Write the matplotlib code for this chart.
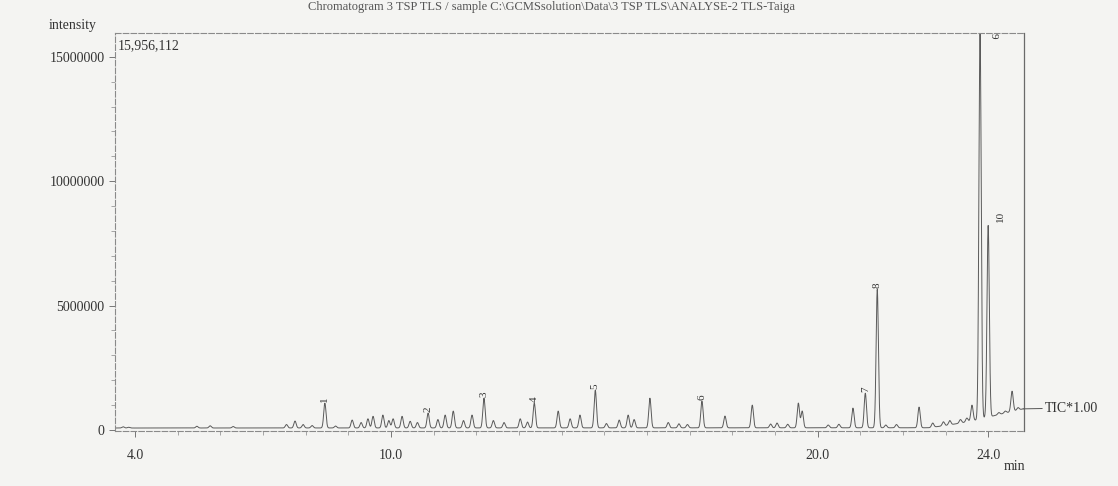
import numpy as np
import matplotlib.pyplot as plt
from matplotlib.ticker import FixedLocator, MultipleLocator, NullFormatter

plt.rcParams['font.family'] = ['Liberation Serif', 'DejaVu Serif']

# labelled peaks: retention time (min) and apex intensity
peak_ids = ['1', '2', '3', '4', '5', '6', '7', '8', '9', '10']
peak_rt = [8.45, 10.87, 12.18, 13.36, 14.79, 17.29, 21.12, 21.40, 23.81, 24.00]
peak_apex = [1080000, 680000, 1280000, 1080000, 1600000, 1160000,
             1480000, 5650000, 15956112, 8220000]

# unlabelled peaks
other_rt = [3.72, 3.85, 5.45, 5.76, 6.30, 7.55, 7.75, 7.94, 8.15, 8.70, 9.09, 9.30,
            9.46, 9.58, 9.81, 9.95, 10.05, 10.26, 10.45, 10.62, 11.10, 11.27,
            11.46, 11.70, 11.90, 12.40, 12.65, 13.03, 13.20, 13.92, 14.20, 14.43,
            15.05, 15.35, 15.56, 15.70, 16.07, 16.50, 16.75, 16.95, 17.83, 18.47,
            18.90, 19.05, 19.30, 19.55, 19.64, 20.25, 20.50, 20.83, 21.60, 21.85,
            22.38, 22.70, 22.95, 23.10, 23.35, 23.50, 23.62, 24.25, 24.40, 24.56, 24.70]
other_apex = [130000, 110000, 150000, 170000, 140000, 220000, 360000, 220000, 180000, 160000, 400000, 300000,
              450000, 550000, 600000, 380000, 450000, 550000, 350000, 300000, 420000, 600000,
              760000, 380000, 600000, 380000, 300000, 450000, 320000, 760000, 450000, 600000,
              260000, 400000, 600000, 420000, 1280000, 300000, 250000, 220000, 560000, 1000000,
              240000, 280000, 230000, 1080000, 760000, 200000, 230000, 880000, 200000, 220000,
              920000, 280000, 330000, 380000, 420000, 480000, 1000000, 700000, 760000, 1560000, 900000]

# baseline drift knots
base_t = [3.53, 22.60, 23.00, 23.60, 24.20, 24.82]
base_y = [80000, 90000, 180000, 350000, 600000, 850000]

t_min, t_max = 3.53, 24.84
t_end = 24.82
y_top = 15956112

t = np.linspace(t_min, t_end, 12000)
base = np.interp(t, base_t, base_y)
signal = base.copy()
for rt, apex in zip(list(peak_rt) + other_rt, list(peak_apex) + other_apex):
    amp = apex - np.interp(rt, base_t, base_y)
    signal += amp * np.exp(-0.5 * ((t - rt) / 0.027) ** 2)

fig = plt.figure(figsize=(11.18, 4.86), dpi=100, facecolor='#f4f4f2')
ax = fig.add_axes([115 / 1118, 1 - 431 / 486, (1024 - 115) / 1118, (431 - 33) / 486])
ax.set_facecolor('#f4f4f2')

ax.plot(t, signal, color='#5a5a5a', lw=0.7)
ax.set_xlim(t_min, t_max)
ax.set_ylim(-40000, y_top)

# peak numbers, written sideways above each apex
for pid, rt, apex in zip(peak_ids, peak_rt, peak_apex):
    if pid == '9':
        ax.text(rt + 0.3, y_top, pid, rotation=-90, fontsize=8, color='#333333',
                ha='center', va='top')
    elif pid == '10':
        ax.text(rt + 0.3, apex + 150000, pid, rotation=90, fontsize=8, color='#333333',
                ha='center', va='bottom')
    else:
        ax.text(rt, apex + 60000, pid, rotation=90, fontsize=8, color='#333333',
                ha='center', va='bottom')

for side in ['top', 'left', 'bottom']:
    ax.spines[side].set_color('#8a8a8a')
    ax.spines[side].set_linewidth(0.8)
    ax.spines[side].set_linestyle((0, (5, 2)))
ax.spines['right'].set_color('#6a6a6a')
ax.spines['right'].set_linewidth(0.9)

ax.yaxis.set_major_locator(FixedLocator([0, 5000000, 10000000, 15000000]))
ax.yaxis.set_minor_locator(MultipleLocator(1000000))
ax.yaxis.set_major_formatter(plt.FuncFormatter(lambda v, p: f'{int(v)}'))
ax.xaxis.set_major_locator(FixedLocator([4.0, 10.0, 20.0, 24.0]))
ax.xaxis.set_minor_locator(MultipleLocator(1.0))
ax.xaxis.set_major_formatter(plt.FuncFormatter(lambda v, p: f'{v:.1f}'))
ax.xaxis.set_minor_formatter(NullFormatter())
ax.tick_params(axis='both', which='major', colors='#777777', labelcolor='#333333',
               labelsize=10, length=4, width=0.7)
ax.tick_params(axis='x', which='major', pad=9)
ax.tick_params(axis='both', which='minor', colors='#999999', length=3, width=0.6)

ax.text(0.003, 0.985, '15,956,112', transform=ax.transAxes, fontsize=10,
        color='#333333', ha='left', va='top')

fig.text(73 / 1118, 1 - 25 / 486, 'intensity', fontsize=10, color='#333333',
         ha='center', va='center')
fig.text(1015 / 1118, 1 - 466 / 486, 'min', fontsize=10, color='#333333',
         ha='center', va='center')
fig.text(551 / 1118, 1 - 1 / 486, r'Chromatogram 3 TSP TLS / sample C:\GCMSsolution\Data\3 TSP TLS\ANALYSE-2 TLS-Taiga',
         fontsize=9, color='#555555', ha='center', va='top')

# trace tag on the right
ax.annotate('TIC*1.00', xy=(t_end, signal[-1]), xytext=(1045 / 1118, 1 - 408 / 486),
            textcoords='figure fraction', fontsize=10, color='#333333',
            ha='left', va='center', annotation_clip=False,
            arrowprops=dict(arrowstyle='-', color='#555555', lw=0.7, shrinkA=0, shrinkB=0))

fig.savefig('out.png', dpi=100, facecolor=fig.get_facecolor())
